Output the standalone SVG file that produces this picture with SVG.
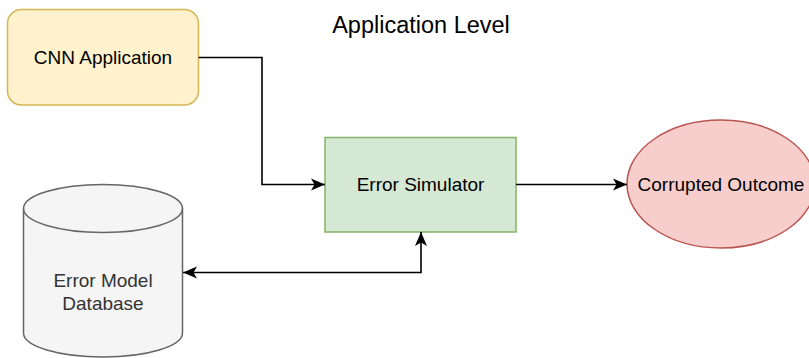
<svg xmlns="http://www.w3.org/2000/svg" width="809" height="358" viewBox="0 0 809 358">
  <style>
    text { font-family: "Liberation Sans", Arial, Helvetica, sans-serif; font-size: 19px; fill: #000000; text-anchor: middle; }
    .title { font-size: 23.5px; }
    .db-label { fill: #333333; }
    .conn { fill: none; stroke: #000000; stroke-width: 1.6; }
  </style>
  <defs>
    <marker id="arrow" markerUnits="userSpaceOnUse" markerWidth="16" markerHeight="14" viewBox="0 -7 16 14" refX="14" refY="0" orient="auto-start-reverse">
      <path d="M0,-6 L14,0 L0,6 L3.5,0 Z" fill="#000000"/>
    </marker>
  </defs>

  <rect width="809" height="358" fill="#ffffff"/>

  <text class="title" x="421" y="33">Application Level</text>

  <g id="cnn-application">
    <rect x="7.5" y="9.5" width="191" height="95.5" rx="14" ry="14" fill="#fff2cc" stroke="#d6b656" stroke-width="1.5"/>
    <text x="103" y="64">CNN Application</text>
  </g>

  <g id="error-simulator">
    <rect x="325" y="137.5" width="191" height="94.5" fill="#d5e8d4" stroke="#82b366" stroke-width="1.5"/>
    <text x="420.5" y="191">Error Simulator</text>
  </g>

  <g id="corrupted-outcome">
    <ellipse cx="721" cy="184" rx="94" ry="64" fill="#f8cecc" stroke="#b85450" stroke-width="1.5"/>
    <text x="721" y="191">Corrupted Outcome</text>
  </g>

  <g id="error-model-database">
    <path d="M23.5,208.5 A79.5,24 0 0 1 182.5,208.5 L182.5,333 A79.5,24 0 0 1 23.5,333 Z" fill="#f5f5f5" stroke="#666666" stroke-width="1.5"/>
    <path d="M23.5,208.5 A79.5,24 0 0 0 182.5,208.5" fill="none" stroke="#666666" stroke-width="1.5"/>
    <text class="db-label" x="103" y="287">Error Model</text>
    <text class="db-label" x="103" y="309.5">Database</text>
  </g>

  <g id="connectors">
    <path class="conn" d="M198.5,57.5 L262,57.5 L262,184.5 L325,184.5" marker-end="url(#arrow)"/>
    <path class="conn" d="M516,184.5 L627,184.5" marker-end="url(#arrow)"/>
    <path class="conn" d="M183,272.5 L421,272.5 L421,232" marker-start="url(#arrow)" marker-end="url(#arrow)"/>
  </g>
</svg>
